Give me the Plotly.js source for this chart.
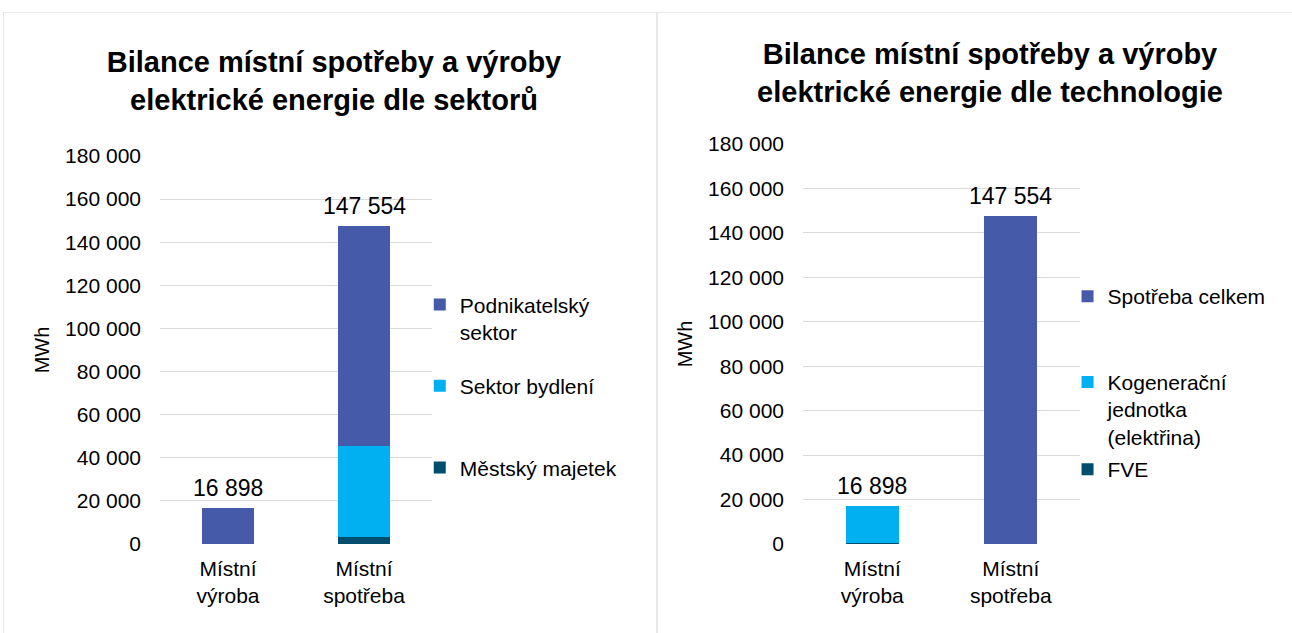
<!DOCTYPE html>
<html>
<head>
<meta charset="utf-8">
<script src="https://cdn.plot.ly/plotly-3.0.1.min.js"></script>
<style>
  body { margin: 0; background: #fff; }
  #sektory, #technologie { position: absolute; top: 12px; height: 620px; border-top: 1px solid #e8e8e8; }
  #sektory { left: 3px; width: 652px; border-left: 1px solid #e8e8e8; border-right: 1px solid #e8e8e8; }
  #technologie { left: 657px; width: 634px; border-left: 1px solid #e8e8e8; }
</style>
</head>
<body>
<div id="sektory"></div>
<div id="technologie"></div>
<script>
// kategorie a hodnoty (MWh)
var kategorie = ['Místní<br>výroba', 'Místní<br>spotřeba'];

var podnikatelsky = [16898, 102054];
var bydleni = [null, 42400];
var majetek = [null, 3100];

var spotrebaCelkem = [null, 147554];
var kogenerace = [16478, null];
var fve = [420, null];

var MODRA = '#465AAA', AZUR = '#00B0F0', PETROL = '#004E6E';
var FONT = 'Liberation Sans, Arial, sans-serif';

function mezery(v) {
    return String(Math.round(v)).replace(/\B(?=(\d{3})+(?!\d))/g, ' ');
}

function soucty(rady) {
    return kategorie.map(function (k, i) {
        return rady.reduce(function (s, r) { return s + (r[i] || 0); }, 0);
    });
}

function sloupec(nazev, hodnoty, barva, legenda) {
    return {
        type: 'bar', x: kategorie, y: hodnoty, name: nazev,
        marker: {color: barva, line: {width: 0}},
        legend: legenda, showlegend: true, hoverinfo: 'y+name'
    };
}

function popisky(celkem) {
    return celkem.map(function (v, i) {
        return {
            x: kategorie[i], y: v, text: mezery(v), showarrow: false,
            yanchor: 'bottom', yshift: 5, font: {size: 23, color: '#000'}
        };
    });
}

function legenda(x, y) {
    return {
        x: x, y: y, xanchor: 'left', yanchor: 'top', valign: 'top',
        font: {size: 21, color: '#000'}, bgcolor: 'rgba(0,0,0,0)'
    };
}

function rozvrzeni(titulek, tx, ty, okraje, legendy) {
    var l = {
        width: okraje.w, height: 620,
        margin: {l: okraje.l, r: okraje.r, t: okraje.t, b: okraje.b},
        paper_bgcolor: '#fff', plot_bgcolor: '#fff',
        font: {family: FONT, color: '#000', size: 20},
        separators: ', ',
        showlegend: true,
        barmode: 'stack', bargap: 0.62,
        title: {
            text: titulek, x: tx, xref: 'container', xanchor: 'center',
            y: ty, yref: 'container', yanchor: 'top',
            font: {size: 29, family: FONT, weight: 'bold', color: '#000'}
        },
        xaxis: {
            showgrid: false, showline: false, zeroline: false, ticks: '',
            ticklabelstandoff: 10, tickfont: {size: 21}
        },
        yaxis: {
            range: [0, 180000], dtick: 20000, tickformat: ',d',
            showgrid: true, gridcolor: '#d9d9d9', gridwidth: 1,
            zeroline: false, showline: false, ticks: '',
            ticklabelstandoff: 18, tickfont: {size: 21},
            title: {text: 'MWh', standoff: 10, font: {size: 20}}
        },
        annotations: okraje.anot
    };
    legendy.forEach(function (lg, i) {
        l[i === 0 ? 'legend' : 'legend' + (i + 1)] = lg;
    });
    return l;
}

// levý graf - dle sektorů
var tracesA = [
    sloupec('Městský majetek', majetek, PETROL, 'legend3'),
    sloupec('Sektor bydlení', bydleni, AZUR, 'legend2'),
    sloupec('Podnikatelský<br>sektor', podnikatelsky, MODRA, 'legend')
];
var layoutA = rozvrzeni(
    'Bilance místní spotřeby a výroby<br>elektrické energie dle sektorů',
    330 / 652, 1 - 59 / 620,
    {w: 652, l: 156, r: 224, t: 143, b: 89, anot: popisky(soucty([podnikatelsky, bydleni, majetek]))},
    [legenda(0.955, 0.669), legenda(0.955, 0.46), legenda(0.955, 0.249)]
);
Plotly.newPlot('sektory', tracesA, layoutA, {displayModeBar: false, staticPlot: true});

// pravý graf - dle technologie
var tracesB = [
    sloupec('FVE', fve, PETROL, 'legend3'),
    sloupec('Kogenerační<br>jednotka<br>(elektřina)', kogenerace, AZUR, 'legend2'),
    sloupec('Spotřeba celkem', spotrebaCelkem, MODRA, 'legend')
];
var layoutB = rozvrzeni(
    'Bilance místní spotřeby a výroby<br>elektrické energie dle technologie',
    332 / 634, 1 - 51 / 620,
    {w: 634, l: 145, r: 212, t: 131, b: 89, anot: popisky(soucty([spotrebaCelkem, kogenerace, fve]))},
    [legenda(0.955, 0.67), legenda(0.955, 0.4555), legenda(0.955, 0.2375)]
);
Plotly.newPlot('technologie', tracesB, layoutB, {displayModeBar: false, staticPlot: true});
</script>
</body>
</html>
